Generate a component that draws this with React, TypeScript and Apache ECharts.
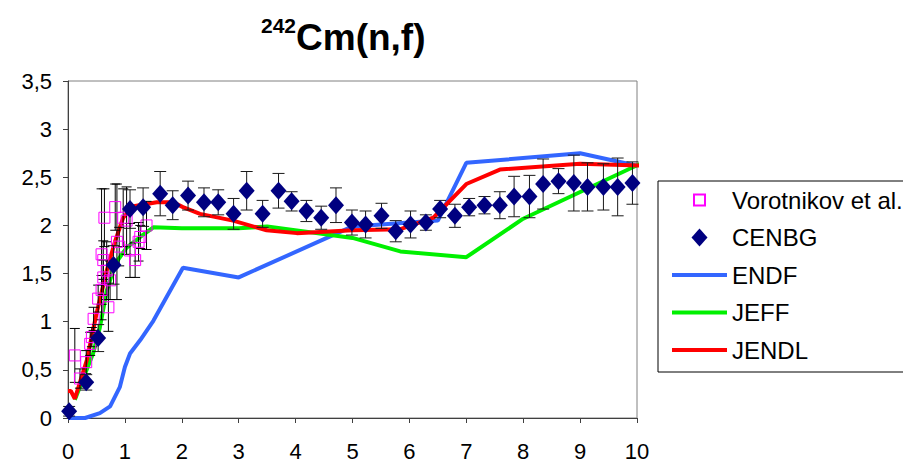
import React, { useEffect, useRef } from "react";
import * as echarts from "echarts";

const FONT = "'Liberation Sans', Arial, sans-serif";

// Vorotnikov et al. : x, y, error
const vorX = [0.12, 0.21, 0.32, 0.39, 0.42, 0.45, 0.53, 0.59, 0.59, 0.62, 0.62, 0.64, 0.68, 0.71, 0.74, 0.83, 0.86, 0.9, 0.97, 1.03, 1.09, 1.18, 1.24, 1.27, 1.38];
const vorY = [0.65, 0.41, 0.58, 0.77, 0.84, 1.03, 1.24, 1.33, 1.7, 1.46, 1.64, 2.08, 1.53, 1.15, 1.43, 2.19, 1.83, 1.78, 2.08, 2.05, 1.74, 1.64, 1.83, 1.88, 2.0];
const vorErr = [0.28, 0.1, 0.12, 0.12, 0.1, 0.12, 0.14, 0.15, 0.68, 0.18, 0.2, 0.3, 0.3, 0.25, 0.2, 0.24, 0.6, 0.2, 0.3, 0.35, 0.28, 0.18, 0.2, 0.12, 0.25];

// CENBG : x, y, error
const cenX = [0.02, 0.32, 0.53, 0.8, 1.09, 1.32, 1.62, 1.84, 2.11, 2.39, 2.64, 2.91, 3.14, 3.42, 3.7, 3.93, 4.19, 4.45, 4.71, 4.99, 5.23, 5.51, 5.76, 6.02, 6.29, 6.54, 6.8, 7.05, 7.32, 7.59, 7.84, 8.11, 8.35, 8.62, 8.89, 9.13, 9.41, 9.66, 9.92];
const cenY = [0.07, 0.37, 0.83, 1.59, 2.17, 2.19, 2.33, 2.21, 2.31, 2.24, 2.24, 2.12, 2.36, 2.12, 2.36, 2.25, 2.15, 2.08, 2.21, 2.03, 2.01, 2.1, 1.94, 2.01, 2.03, 2.17, 2.1, 2.19, 2.21, 2.21, 2.3, 2.3, 2.43, 2.46, 2.44, 2.4, 2.4, 2.4, 2.44];
const cenErr = [0.05, 0.08, 0.14, 0.2, 0.2, 0.2, 0.23, 0.15, 0.15, 0.15, 0.13, 0.16, 0.2, 0.14, 0.18, 0.1, 0.11, 0.12, 0.18, 0.13, 0.14, 0.13, 0.11, 0.14, 0.08, 0.09, 0.12, 0.09, 0.09, 0.14, 0.21, 0.22, 0.26, 0.13, 0.29, 0.25, 0.24, 0.3, 0.22];

// Evaluations
const endfX = [0, 0.3, 0.56, 0.74, 0.91, 1.0, 1.09, 1.27, 1.5, 2.02, 3.0, 5.0, 6.5, 7.0, 9.0, 10.0];
const endfY = [0, 0, 0.05, 0.12, 0.32, 0.53, 0.67, 0.81, 1.01, 1.56, 1.46, 1.99, 2.05, 2.65, 2.75, 2.62];
const jeffX = [0.12, 0.44, 0.56, 0.68, 0.83, 1.03, 1.27, 1.5, 2.0, 3.0, 3.5, 5.0, 5.84, 7.0, 8.0, 10.2];
const jeffY = [0.19, 0.67, 0.94, 1.32, 1.6, 1.77, 1.88, 1.98, 1.97, 1.97, 1.99, 1.87, 1.73, 1.67, 2.07, 2.68];
const jendlX = [0, 0.05, 0.12, 0.33, 0.5, 0.68, 0.83, 0.97, 1.15, 1.56, 1.85, 2.02, 2.32, 2.9, 3.49, 4.02, 5.0, 5.83, 6.42, 7.0, 7.59, 9.0, 10.2];
const jendlY = [0.28, 0.28, 0.2, 0.6, 1.08, 1.53, 1.84, 2.08, 2.2, 2.24, 2.24, 2.19, 2.12, 2.05, 1.95, 1.92, 1.95, 1.96, 2.08, 2.43, 2.58, 2.64, 2.62];

const yTicks = [0, 0.5, 1, 1.5, 2, 2.5, 3, 3.5];

const zip2 = (xs: number[], ys: number[]) => xs.map((x, i) => [x, ys[i]]);
const zip3 = (xs: number[], ys: number[], es: number[]) => xs.map((x, i) => [x, ys[i], es[i]]);

const errRender = (capHalf: number, color: string) => (_p: any, api: any) => {
  const x = api.value(0);
  const y = api.value(1);
  const e = api.value(2);
  const top = api.coord([x, y + e]);
  const bot = api.coord([x, y - e]);
  const style = { stroke: color, lineWidth: 1 };
  return {
    type: "group",
    children: [
      { type: "line", shape: { x1: top[0], y1: top[1], x2: bot[0], y2: bot[1] }, style },
      { type: "line", shape: { x1: top[0] - capHalf, y1: top[1], x2: top[0] + capHalf, y2: top[1] }, style },
      { type: "line", shape: { x1: bot[0] - capHalf, y1: bot[1], x2: bot[0] + capHalf, y2: bot[1] }, style },
    ],
  };
};

const LINE_ICON = "path://M0,0 M55,18 M0,7 L55,7 L55,11 L0,11 Z";

export default function App() {
  const ref = useRef<HTMLDivElement>(null);
  useEffect(() => {
    document.body.style.margin = "0";
    if (!ref.current) return;
    const chart = echarts.init(ref.current, undefined, { renderer: "svg" });
    const lineSeries = (name: string, xs: number[], ys: number[], color: string) => ({
      name,
      type: "line",
      data: zip2(xs, ys),
      symbol: "none",
      showSymbol: false,
      clip: false,
      z: 2,
      lineStyle: { color, width: 4 },
      itemStyle: { color },
    });
    chart.setOption({
      animation: false,
      textStyle: { fontFamily: FONT },
      title: {
        text: "{sup|242}{main|Cm(n,f)}",
        left: 256,
        top: 10,
        textStyle: {
          rich: {
            sup: { fontSize: 21, fontWeight: "bold", fontFamily: FONT, color: "#000", verticalAlign: "top", lineHeight: 12 },
            main: { fontSize: 37, fontWeight: "bold", fontFamily: FONT, color: "#000", lineHeight: 44 },
          },
        },
      },
      grid: {
        left: 68,
        top: 81,
        right: 266,
        bottom: 47,
        show: true,
        borderColor: "#808080",
        borderWidth: 1,
        backgroundColor: "#fff",
      },
      legend: {
        orient: "vertical",
        left: 658,
        top: 181,
        padding: [7, 14, 10, 14],
        itemWidth: 55,
        itemHeight: 18,
        itemGap: 13.5,
        borderColor: "#000",
        borderWidth: 1,
        backgroundColor: "#fff",
        selectedMode: false,
        textStyle: { fontSize: 24, lineHeight: 24, color: "#000", fontFamily: FONT },
        data: [
          {
            name: "Vorotnikov et al.",
            icon: "path://M0,0 M18,18 M3.5,3.5 L14.5,3.5 L14.5,14.5 L3.5,14.5 Z",
          },
          { name: "CENBG", icon: "path://M0,0 M18,18 M9,0 L17,9 L9,18 L1,9 Z" },
          { name: "ENDF", icon: LINE_ICON },
          { name: "JEFF", icon: LINE_ICON },
          { name: "JENDL", icon: LINE_ICON },
        ],
      },
      xAxis: {
        type: "value",
        min: 0,
        max: 10,
        interval: 1,
        splitLine: { show: false },
        axisLine: { lineStyle: { color: "#404040", width: 1 } },
        axisTick: { show: true, inside: false, length: 5, lineStyle: { color: "#404040" } },
        axisLabel: { fontSize: 22, color: "#000", margin: 22, fontFamily: FONT },
      },
      yAxis: {
        type: "value",
        min: yTicks[0],
        max: yTicks[yTicks.length - 1],
        interval: 0.5,
        splitLine: { show: false },
        axisLine: { show: true, lineStyle: { color: "#404040", width: 1 } },
        axisTick: { show: true, inside: false, length: 5, lineStyle: { color: "#404040" } },
        axisLabel: {
          fontSize: 22,
          color: "#000",
          margin: 16,
          fontFamily: FONT,
          formatter: (v: number) => String(v).replace(".", ","),
        },
      },
      series: [
        lineSeries("ENDF", endfX, endfY, "#3366FF"),
        lineSeries("JEFF", jeffX, jeffY, "#00F000"),
        lineSeries("JENDL", jendlX, jendlY, "#FF0000"),
        {
          name: "vorErr",
          type: "custom",
          z: 3,
          renderItem: errRender(5, "#000"),
          data: zip3(vorX, vorY, vorErr),
          encode: { x: 0, y: 1 },
          silent: true,
        },
        {
          name: "Vorotnikov et al.",
          type: "scatter",
          z: 4,
          symbol: "rect",
          symbolSize: 11,
          data: zip2(vorX, vorY),
          itemStyle: { color: "rgba(0,0,0,0)", borderColor: "#FF00FF", borderWidth: 1, opacity: 1 },
        },
        {
          name: "cenErr",
          type: "custom",
          z: 5,
          renderItem: errRender(6, "#1a1a1a"),
          data: zip3(cenX, cenY, cenErr),
          encode: { x: 0, y: 1 },
          silent: true,
        },
        {
          name: "CENBG",
          type: "scatter",
          z: 6,
          symbol: "diamond",
          symbolSize: [16, 18],
          data: zip2(cenX, cenY),
          itemStyle: { color: "#000080", opacity: 1 },
        },
      ],
    });
    return () => chart.dispose();
  }, []);
  return <div ref={ref} style={{ width: 903, height: 465 }} />;
}
